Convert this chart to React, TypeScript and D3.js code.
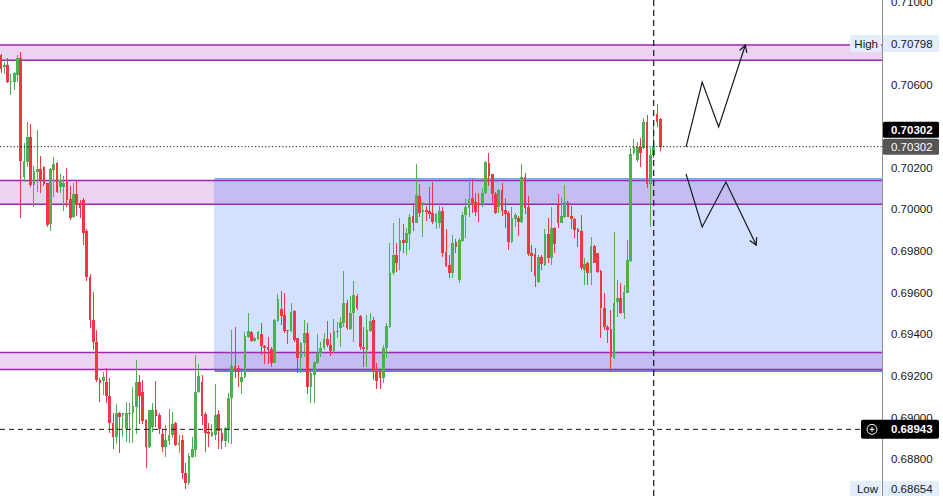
import React from 'react';
import * as d3 from 'd3';

// OHLC, one entry per candle (left to right)
const opens = [
  0.70743, 0.70684, 0.70695, 0.70614, 0.70614, 0.70647, 0.70727, 0.70158, 0.70230, 0.70350,
  0.70118, 0.70182, 0.70195, 0.70203, 0.70126, 0.69930, 0.70190, 0.70222, 0.70110, 0.70110,
  0.70134, 0.70049, 0.69962, 0.70075, 0.70033, 0.70046, 0.69898, 0.69674, 0.69469, 0.69364,
  0.69180, 0.69177, 0.69172, 0.69103, 0.68975, 0.68905, 0.69023, 0.69012, 0.68945, 0.69017,
  0.69020, 0.69052, 0.69172, 0.69121, 0.68988, 0.68860, 0.68956, 0.69036, 0.69012, 0.68921,
  0.68857, 0.68888, 0.68916, 0.68972, 0.68869, 0.68892, 0.68732, 0.68687, 0.68811, 0.68844,
  0.69124, 0.69169, 0.69017, 0.68930, 0.68912, 0.68916, 0.69015, 0.68927, 0.68888, 0.68945,
  0.69092, 0.69247, 0.69239, 0.69169, 0.69193, 0.69389, 0.69413, 0.69369, 0.69377, 0.69401,
  0.69344, 0.69337, 0.69329, 0.69263, 0.69465, 0.69520, 0.69493, 0.69421, 0.69417, 0.69512,
  0.69381, 0.69284, 0.69360, 0.69408, 0.69148, 0.69204, 0.69263, 0.69309, 0.69333, 0.69376,
  0.69349, 0.69321, 0.69411, 0.69432, 0.69456, 0.69552, 0.69424, 0.69501, 0.69584, 0.69488,
  0.69340, 0.69324, 0.69416, 0.69469, 0.69217, 0.69217, 0.69188, 0.69333, 0.69436, 0.69696,
  0.69781, 0.69800, 0.69853, 0.69840, 0.69882, 0.69969, 0.69937, 0.70065, 0.69988, 0.69998,
  0.69993, 0.69982, 0.69941, 0.69934, 0.69993, 0.69794, 0.69733, 0.69696, 0.69845, 0.69661,
  0.69850, 0.69972, 0.70006, 0.70054, 0.70036, 0.70030, 0.70026, 0.70078, 0.70222, 0.70171,
  0.70075, 0.70013, 0.70094, 0.69998, 0.69982, 0.69845, 0.69953, 0.69961, 0.69941, 0.70158,
  0.70011, 0.69792, 0.69786, 0.69653, 0.69773, 0.69733, 0.69882, 0.69765, 0.69910, 0.70022,
  0.69937, 0.69965, 0.70037, 0.69969, 0.69953, 0.69905, 0.69897, 0.69709, 0.69741, 0.69696,
  0.69824, 0.69789, 0.69704, 0.69525, 0.69436, 0.69424, 0.69284, 0.69557, 0.69573, 0.69504,
  0.69600, 0.69754, 0.70270, 0.70238, 0.70302, 0.70294, 0.70422, 0.70123, 0.70262, 0.70459,
  0.70434,
];

const highs = [
  0.70748, 0.70711, 0.70727, 0.70651, 0.70662, 0.70743, 0.70756, 0.70321, 0.70422, 0.70411,
  0.70209, 0.70382, 0.70257, 0.70209, 0.70129, 0.70201, 0.70251, 0.70230, 0.70171, 0.70161,
  0.70198, 0.70114, 0.70126, 0.70142, 0.70046, 0.70054, 0.69906, 0.69690, 0.69605, 0.69420,
  0.69190, 0.69220, 0.69236, 0.69190, 0.69020, 0.69065, 0.69028, 0.69023, 0.69076, 0.69071,
  0.69148, 0.69276, 0.69204, 0.69180, 0.68995, 0.69036, 0.69068, 0.69177, 0.69020, 0.68944,
  0.68964, 0.69042, 0.69026, 0.68980, 0.68916, 0.68916, 0.68783, 0.68828, 0.68907, 0.69300,
  0.69256, 0.69204, 0.69028, 0.68973, 0.68969, 0.69159, 0.69036, 0.68948, 0.68954, 0.69116,
  0.69421, 0.69436, 0.69252, 0.69228, 0.69412, 0.69504, 0.69418, 0.69388, 0.69416, 0.69456,
  0.69348, 0.69385, 0.69340, 0.69474, 0.69594, 0.69608, 0.69600, 0.69423, 0.69552, 0.69517,
  0.69382, 0.69364, 0.69469, 0.69453, 0.69220, 0.69268, 0.69401, 0.69364, 0.69408, 0.69464,
  0.69408, 0.69474, 0.69460, 0.69485, 0.69704, 0.69565, 0.69584, 0.69656, 0.69594, 0.69493,
  0.69436, 0.69493, 0.69504, 0.69485, 0.69260, 0.69228, 0.69348, 0.69453, 0.69840, 0.69937,
  0.69837, 0.69958, 0.69930, 0.69910, 0.69978, 0.70033, 0.70219, 0.70123, 0.70037, 0.70017,
  0.70110, 0.70134, 0.69985, 0.70017, 0.70013, 0.69905, 0.69781, 0.69877, 0.69858, 0.69861,
  0.69989, 0.70049, 0.70150, 0.70145, 0.70078, 0.70078, 0.70102, 0.70233, 0.70270, 0.70171,
  0.70086, 0.70097, 0.70129, 0.70054, 0.69994, 0.70013, 0.69985, 0.69969, 0.70219, 0.70177,
  0.70065, 0.69829, 0.69813, 0.69781, 0.69781, 0.69905, 0.69958, 0.70013, 0.69914, 0.70073,
  0.70061, 0.70118, 0.70040, 0.70017, 0.69958, 0.69910, 0.69974, 0.69765, 0.69749, 0.69869,
  0.69829, 0.69792, 0.69709, 0.69600, 0.69445, 0.69517, 0.69893, 0.69661, 0.69645, 0.69637,
  0.69853, 0.70294, 0.70337, 0.70326, 0.70342, 0.70438, 0.70454, 0.70294, 0.70416, 0.70507,
  0.70438,
];

const lows = [
  0.70656, 0.70650, 0.70607, 0.70550, 0.70574, 0.70614, 0.69958, 0.70134, 0.70206, 0.70110,
  0.70013, 0.70086, 0.70081, 0.70113, 0.69917, 0.69898, 0.70062, 0.70081, 0.70081, 0.69994,
  0.70013, 0.69950, 0.69958, 0.69969, 0.69958, 0.69829, 0.69658, 0.69430, 0.69324, 0.69172,
  0.69076, 0.69108, 0.69070, 0.68927, 0.68847, 0.68873, 0.68828, 0.68907, 0.68883, 0.68876,
  0.68879, 0.68919, 0.68969, 0.68969, 0.68759, 0.68853, 0.68932, 0.68956, 0.68921, 0.68836,
  0.68811, 0.68868, 0.68900, 0.68863, 0.68828, 0.68703, 0.68654, 0.68675, 0.68805, 0.68809,
  0.69116, 0.68964, 0.68836, 0.68860, 0.68906, 0.68892, 0.68847, 0.68847, 0.68860, 0.68876,
  0.68871, 0.69188, 0.69148, 0.69112, 0.69190, 0.69381, 0.69364, 0.69364, 0.69372, 0.69300,
  0.69257, 0.69257, 0.69244, 0.69260, 0.69461, 0.69445, 0.69405, 0.69353, 0.69412, 0.69364,
  0.69215, 0.69212, 0.69292, 0.69113, 0.69071, 0.69071, 0.69257, 0.69289, 0.69324, 0.69337,
  0.69296, 0.69310, 0.69384, 0.69340, 0.69436, 0.69421, 0.69421, 0.69364, 0.69517, 0.69324,
  0.69244, 0.69244, 0.69412, 0.69180, 0.69135, 0.69135, 0.69164, 0.69284, 0.69429, 0.69685,
  0.69701, 0.69709, 0.69789, 0.69781, 0.69805, 0.69898, 0.69934, 0.69963, 0.69869, 0.69945,
  0.69954, 0.69930, 0.69905, 0.69910, 0.69770, 0.69725, 0.69669, 0.69669, 0.69792, 0.69648,
  0.69845, 0.69861, 0.69965, 0.69985, 0.69969, 0.69941, 0.70013, 0.70075, 0.70113, 0.70030,
  0.69978, 0.69982, 0.69969, 0.69910, 0.69805, 0.69840, 0.69914, 0.69873, 0.69937, 0.69978,
  0.69776, 0.69701, 0.69629, 0.69648, 0.69709, 0.69728, 0.69744, 0.69733, 0.69789, 0.69910,
  0.69934, 0.69958, 0.69962, 0.69905, 0.69861, 0.69821, 0.69709, 0.69637, 0.69637, 0.69637,
  0.69741, 0.69696, 0.69381, 0.69421, 0.69357, 0.69225, 0.69279, 0.69485, 0.69498, 0.69472,
  0.69598, 0.69749, 0.70262, 0.70230, 0.70206, 0.70289, 0.70102, 0.69917, 0.70248, 0.70395,
  0.70283,
];

const closes = [
  0.70674, 0.70695, 0.70614, 0.70619, 0.70655, 0.70727, 0.70235, 0.70235, 0.70350, 0.70118,
  0.70185, 0.70195, 0.70142, 0.70123, 0.69925, 0.70195, 0.70219, 0.70086, 0.70142, 0.70126,
  0.70046, 0.69958, 0.70075, 0.70022, 0.70006, 0.69888, 0.69674, 0.69469, 0.69364, 0.69180,
  0.69164, 0.69196, 0.69103, 0.68975, 0.68905, 0.69020, 0.69004, 0.69020, 0.69023, 0.69023,
  0.69055, 0.69172, 0.69105, 0.68985, 0.68860, 0.69036, 0.69036, 0.69009, 0.68944, 0.68857,
  0.68892, 0.68916, 0.68969, 0.68868, 0.68876, 0.68732, 0.68687, 0.68815, 0.68847, 0.69124,
  0.69200, 0.69009, 0.68924, 0.68921, 0.68929, 0.69012, 0.68935, 0.68888, 0.68948, 0.69092,
  0.69247, 0.69225, 0.69220, 0.69196, 0.69392, 0.69416, 0.69369, 0.69384, 0.69411, 0.69344,
  0.69333, 0.69324, 0.69263, 0.69469, 0.69568, 0.69489, 0.69417, 0.69416, 0.69509, 0.69372,
  0.69284, 0.69360, 0.69408, 0.69148, 0.69212, 0.69265, 0.69311, 0.69333, 0.69376, 0.69349,
  0.69321, 0.69416, 0.69416, 0.69460, 0.69552, 0.69432, 0.69504, 0.69589, 0.69525, 0.69337,
  0.69328, 0.69421, 0.69464, 0.69223, 0.69177, 0.69188, 0.69333, 0.69440, 0.69693, 0.69781,
  0.69744, 0.69853, 0.69840, 0.69885, 0.69965, 0.69937, 0.70070, 0.69985, 0.69998, 0.69988,
  0.69978, 0.69941, 0.69978, 0.69993, 0.69792, 0.69728, 0.69696, 0.69840, 0.69818, 0.69853,
  0.69974, 0.70011, 0.70049, 0.70033, 0.69989, 0.70020, 0.70078, 0.70230, 0.70161, 0.70075,
  0.69985, 0.70094, 0.69994, 0.69978, 0.69845, 0.69958, 0.69974, 0.69941, 0.70158, 0.70006,
  0.69786, 0.69776, 0.69680, 0.69773, 0.69738, 0.69882, 0.69768, 0.69910, 0.69834, 0.69934,
  0.69969, 0.70037, 0.69965, 0.69953, 0.69901, 0.69893, 0.69717, 0.69738, 0.69696, 0.69824,
  0.69744, 0.69701, 0.69525, 0.69434, 0.69421, 0.69289, 0.69549, 0.69573, 0.69504, 0.69605,
  0.69757, 0.70267, 0.70302, 0.70299, 0.70270, 0.70422, 0.70123, 0.70262, 0.70305, 0.70422,
  0.70302,
];

// price scale ticks that are visible on the right axis
const axisTicks = [0.71, 0.706, 0.702, 0.70, 0.698, 0.696, 0.694, 0.692, 0.690, 0.688];

// supply / demand zones (purple)
const zoneTops = [0.70791, 0.70140, 0.69313];
const zoneBottoms = [0.70717, 0.70025, 0.69231];

// range box (blue), starting at a candle index
const boxStartIndex = 64.8;
const boxTop = 0.70148;
const boxBottom = 0.69223;

const currentPrice = 0.70302;
const markerPrice = 0.68943;
const highPrice = 0.70798;
const lowPrice = 0.68654;
const cursorIndex = 198;

// projected paths (candle index, price)
const upPathIdx = [207.8, 212.7, 217.7, 225.8];
const upPathPrice = [0.70300, 0.70613, 0.70397, 0.70791];
const downPathIdx = [207.8, 212.7, 219.9, 229.1];
const downPathPrice = [0.70171, 0.69916, 0.70132, 0.69829];

const W = 943;
const H = 496;
const PLOT_RIGHT = 882;
const UP = '#4caf50';
const DOWN = '#f23645';
const FONT = '"Liberation Sans", Arial, sans-serif';

export default function App() {
  const x = d3.scaleLinear().domain([0, opens.length - 1]).range([1, 660.3]);
  const y = d3.scaleLinear().domain([0.686226, 0.710072]).range([H, 0]);
  const fmt = d3.format('.5f');
  const bodyW = 2.7;

  const line = d3.line<[number, number]>().x(d => x(d[0])).y(d => y(d[1]));

  const arrow = (idx: number[], prices: number[]) => {
    const pts = idx.map((v, i) => [v, prices[i]] as [number, number]);
    const n = pts.length;
    const x1 = x(pts[n - 2][0]), y1 = y(pts[n - 2][1]);
    const x2 = x(pts[n - 1][0]), y2 = y(pts[n - 1][1]);
    const ang = Math.atan2(y2 - y1, x2 - x1);
    const len = 8;
    const w1 = [x2 - len * Math.cos(ang - 0.5), y2 - len * Math.sin(ang - 0.5)];
    const w2 = [x2 - len * Math.cos(ang + 0.5), y2 - len * Math.sin(ang + 0.5)];
    return (
      <g fill="none" stroke="#131722" strokeWidth={1.2} strokeLinejoin="miter">
        <path d={line(pts) || ''} />
        <path d={`M${w1[0]},${w1[1]}L${x2},${y2}L${w2[0]},${w2[1]}`} />
      </g>
    );
  };

  const curY = y(currentPrice);
  const markY = y(markerPrice);
  const boxX = x(boxStartIndex);

  return (
    <div style={{ position: 'absolute', left: 0, top: 0, width: W, height: H, background: '#fff' }}>
      <svg width={W} height={H} viewBox={`0 0 ${W} ${H}`} style={{ display: 'block' }}>
        <rect x={0} y={0} width={W} height={H} fill="#ffffff" />

        {/* zone fills */}
        {zoneTops.map((t, i) => (
          <rect key={'zf' + i} x={0} y={y(t)} width={PLOT_RIGHT} height={y(zoneBottoms[i]) - y(t)}
            fill="rgba(156,39,176,0.2)" />
        ))}
        <rect x={boxX} y={y(boxTop)} width={PLOT_RIGHT - boxX} height={y(boxBottom) - y(boxTop)}
          fill="rgba(41,98,255,0.2)" />
        <line x1={boxX} x2={boxX} y1={y(boxTop)} y2={y(boxBottom)} stroke="rgba(41,98,255,0.15)" />
        <line x1={boxX} x2={PLOT_RIGHT} y1={y(boxTop)} y2={y(boxTop)} stroke="#7ea3f7" strokeWidth={1.6} />
        <line x1={boxX} x2={PLOT_RIGHT} y1={y(boxBottom)} y2={y(boxBottom)} stroke="#4d7ef2" strokeWidth={1.6} />

        {/* zone borders */}
        {zoneTops.map((t, i) => (
          <g key={'zb' + i} stroke="#9c27b0" strokeWidth={1.5}>
            <line x1={0} x2={PLOT_RIGHT} y1={y(t)} y2={y(t)} />
            <line x1={0} x2={PLOT_RIGHT} y1={y(zoneBottoms[i])} y2={y(zoneBottoms[i])} />
          </g>
        ))}

        {/* candles */}
        <g shapeRendering="crispEdges">
          {opens.map((o, i) => {
            const c = closes[i];
            const col = c >= o ? UP : DOWN;
            const cx = x(i);
            const top = y(Math.max(o, c));
            const bh = Math.max(1, y(Math.min(o, c)) - top);
            return (
              <g key={i}>
                <line x1={cx} x2={cx} y1={y(highs[i])} y2={y(lows[i])} stroke={col} strokeWidth={1} />
                <rect x={cx - bodyW / 2} y={top} width={bodyW} height={bh} fill={col} />
              </g>
            );
          })}
        </g>

        {/* price lines */}
        <line x1={0} x2={PLOT_RIGHT} y1={curY} y2={curY} stroke="#131722" strokeWidth={1} strokeDasharray="1.2,2.2" />
        <line x1={0} x2={862} y1={markY} y2={markY} stroke="#131722" strokeWidth={1} strokeDasharray="5,4" />
        <line x1={x(cursorIndex)} x2={x(cursorIndex)} y1={0} y2={H} stroke="#131722" strokeWidth={1.2} strokeDasharray="6,4" />

        {/* projected scenarios */}
        {arrow(upPathIdx, upPathPrice)}
        {arrow(downPathIdx, downPathPrice)}

        {/* price axis */}
        <rect x={PLOT_RIGHT} y={0} width={W - PLOT_RIGHT} height={H} fill="#ffffff" />
        <line x1={PLOT_RIGHT + 0.5} x2={PLOT_RIGHT + 0.5} y1={0} y2={H} stroke="#8c8f96" strokeWidth={1} />
        <g fontFamily={FONT} fontSize={11.5} fill="#131722">
          {axisTicks.map(t => (
            <text key={t} x={891} y={y(t)} dominantBaseline="central">{fmt(t)}</text>
          ))}
        </g>

        {/* High / Low labels */}
        {[highPrice, lowPrice].map((p, i) => {
          const py = y(p);
          return (
            <g key={'hl' + i} fontFamily={FONT} fontSize={11.5}>
              <rect x={850} y={py - 8.5} width={31} height={17} fill="#e3edfb" />
              <rect x={883} y={py - 8.5} width={56} height={17} fill="#e3edfb" />
              <text x={878} y={py} textAnchor="end" dominantBaseline="central" fill="#131722">{i === 0 ? 'High' : 'Low'}</text>
              <text x={891} y={py} dominantBaseline="central" fill="#131722">{fmt(p)}</text>
            </g>
          );
        })}

        {/* current price labels */}
        <g fontFamily={FONT} fontSize={11.5}>
          <rect x={883} y={curY - 25} width={56} height={16} rx={1.5} fill="#000000" />
          <text x={891} y={curY - 17} dominantBaseline="central" fill="#ffffff" fontWeight={700}>{fmt(currentPrice)}</text>
          <rect x={883} y={curY - 8} width={56} height={16} rx={1.5} fill="#555555" />
          <text x={891} y={curY} dominantBaseline="central" fill="#ffffff">{fmt(currentPrice)}</text>
        </g>

        {/* marker label */}
        <g fontFamily={FONT} fontSize={11.5}>
          <rect x={861} y={markY - 9.5} width={78} height={19} rx={2} fill="#000000" />
          <circle cx={872} cy={markY} r={5} fill="none" stroke="#ffffff" strokeWidth={1} />
          <line x1={869.5} x2={874.5} y1={markY} y2={markY} stroke="#ffffff" strokeWidth={1} />
          <line x1={872} x2={872} y1={markY - 2.5} y2={markY + 2.5} stroke="#ffffff" strokeWidth={1} />
          <text x={891} y={markY} dominantBaseline="central" fill="#ffffff" fontWeight={700}>{fmt(markerPrice)}</text>
        </g>
      </svg>
    </div>
  );
}
